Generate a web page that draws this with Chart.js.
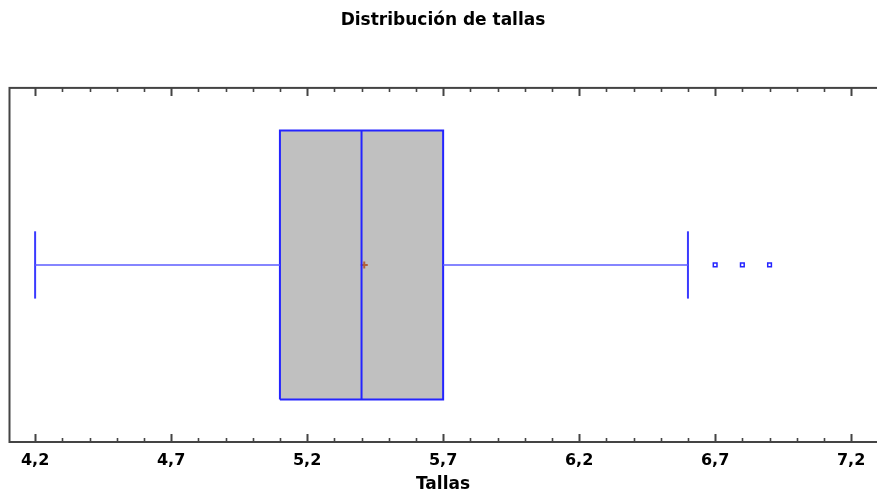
<!DOCTYPE html>
<html>
<head>
<meta charset="utf-8">
<script src="https://cdn.jsdelivr.net/npm/chart.js@4/dist/chart.umd.min.js"></script>
<style>
  html, body { margin: 0; padding: 0; background: #ffffff; }
  #wrap { width: 877px; height: 495px; position: relative; }
</style>
</head>
<body>
<div id="wrap"><canvas id="c"></canvas></div>
<script>
// ---- data ----
const categories = ['Tallas'];
const minValues = [4.2];
const q1Values = [5.1];
const medianValues = [5.4];
const q3Values = [5.7];
const maxValues = [6.6];
const meanValues = [5.41];
const outlierValues = [6.7, 6.8, 6.9];
const majorTicks = [4.2, 4.7, 5.2, 5.7, 6.2, 6.7, 7.2];
const tickLabels = ['4,2', '4,7', '5,2', '5,7', '6,2', '6,7', '7,2'];
const minorStep = 0.1;

// ---- geometry / styling ----
const BOX_HALF = 0.76;
const CAP_HALF = 0.19;
const BLUE = '#2424ff';
const WHISKER = '#5c5cff';
const FRAME = '#444444';

const i = 0;
const datasets = [
  {
    label: 'box',
    data: [
      { x: q1Values[i], y: -BOX_HALF }, { x: q3Values[i], y: -BOX_HALF },
      { x: q3Values[i], y: BOX_HALF }, { x: q1Values[i], y: BOX_HALF },
      { x: q1Values[i], y: -BOX_HALF }
    ],
    showLine: true, fill: 'shape', backgroundColor: '#c0c0c0',
    borderColor: BLUE, borderWidth: 2, pointRadius: 0, tension: 0, order: 10
  },
  {
    label: 'median',
    data: [{ x: medianValues[i], y: -BOX_HALF }, { x: medianValues[i], y: BOX_HALF }],
    showLine: true, borderColor: BLUE, borderWidth: 2, pointRadius: 0, order: 1
  },
  {
    label: 'lowWhisker',
    data: [{ x: minValues[i], y: 0 }, { x: q1Values[i], y: 0 }],
    showLine: true, borderColor: WHISKER, borderWidth: 1.5, pointRadius: 0, order: 2
  },
  {
    label: 'lowCap',
    data: [{ x: minValues[i], y: -CAP_HALF }, { x: minValues[i], y: CAP_HALF }],
    showLine: true, borderColor: '#3a3aff', borderWidth: 2, pointRadius: 0, order: 2
  },
  {
    label: 'highWhisker',
    data: [{ x: q3Values[i], y: 0 }, { x: maxValues[i], y: 0 }],
    showLine: true, borderColor: WHISKER, borderWidth: 1.5, pointRadius: 0, order: 2
  },
  {
    label: 'highCap',
    data: [{ x: maxValues[i], y: -CAP_HALF }, { x: maxValues[i], y: CAP_HALF }],
    showLine: true, borderColor: '#3a3aff', borderWidth: 2, pointRadius: 0, order: 2
  },
  {
    label: 'outliers',
    data: outlierValues.map(v => ({ x: v, y: 0 })),
    showLine: false, pointStyle: 'rect', pointRadius: 2.6,
    borderColor: BLUE, backgroundColor: '#ffffff', borderWidth: 1.5, order: 2
  },
  {
    label: 'mean',
    data: [{ x: meanValues[i], y: 0 }],
    showLine: false, pointStyle: 'cross', pointRadius: 3.5,
    borderColor: '#b0603a', borderWidth: 2, order: 5
  }
];

const framePlugin = {
  id: 'frame',
  afterDraw(chart) {
    const { ctx, chartArea: a, scales } = chart;
    const xs = scales.x;
    ctx.save();
    ctx.strokeStyle = FRAME;
    ctx.lineWidth = 2;
    ctx.strokeRect(a.left + 0.5, a.top, a.right - a.left + 2, a.bottom - a.top);
    // inward tick marks, top and bottom
    const first = majorTicks[0], last = majorTicks[majorTicks.length - 1];
    const n = Math.round((last - first) / minorStep);
    for (let k = 0; k <= n; k++) {
      const v = first + k * minorStep;
      const isMajor = k % 5 === 0;
      const len = isMajor ? 8 : 4;
      const px = Math.round(xs.getPixelForValue(v)) + 0.5;
      ctx.lineWidth = isMajor ? 2 : 1.6;
      ctx.beginPath();
      ctx.moveTo(px, a.bottom);
      ctx.lineTo(px, a.bottom - len);
      ctx.moveTo(px, a.top);
      ctx.lineTo(px, a.top + len);
      ctx.stroke();
    }
    ctx.restore();
  }
};

new Chart(document.getElementById('c'), {
  type: 'scatter',
  data: { datasets },
  options: {
    responsive: true,
    maintainAspectRatio: false,
    animation: false,
    layout: { autoPadding: false, padding: { left: 9, right: 0, top: 0, bottom: 0 } },
    plugins: {
      legend: { display: false },
      tooltip: { enabled: false },
      title: {
        display: true,
        text: 'Distribución de tallas',
        color: '#000000',
        font: { family: 'DejaVu Sans', size: 17, weight: 'bold' },
        padding: { top: 10, bottom: 57.5 }
      }
    },
    scales: {
      x: {
        type: 'linear',
        min: 4.104,
        max: 7.295,
        grid: { display: false, drawTicks: false },
        border: { display: false },
        afterBuildTicks(scale) {
          scale.ticks = majorTicks.map(v => ({ value: v }));
        },
        afterFit(scale) {
          scale.height = 53;
          scale.paddingLeft = 0;
          scale.paddingRight = 0;
        },
        ticks: {
          autoSkip: false,
          maxRotation: 0,
          padding: 9,
          color: '#000000',
          font: { family: 'DejaVu Sans', size: 16, weight: 'bold' },
          callback: (value) => {
            const idx = majorTicks.findIndex(t => Math.abs(t - value) < 1e-6);
            return idx >= 0 ? tickLabels[idx] : '';
          }
        },
        title: {
          display: true,
          text: categories[0],
          color: '#000000',
          font: { family: 'DejaVu Sans', size: 17, weight: 'bold' },
          padding: { top: 4, bottom: 0 }
        }
      },
      y: {
        type: 'linear',
        min: -1,
        max: 1,
        display: false
      }
    }
  },
  plugins: [framePlugin]
});
</script>
</body>
</html>
